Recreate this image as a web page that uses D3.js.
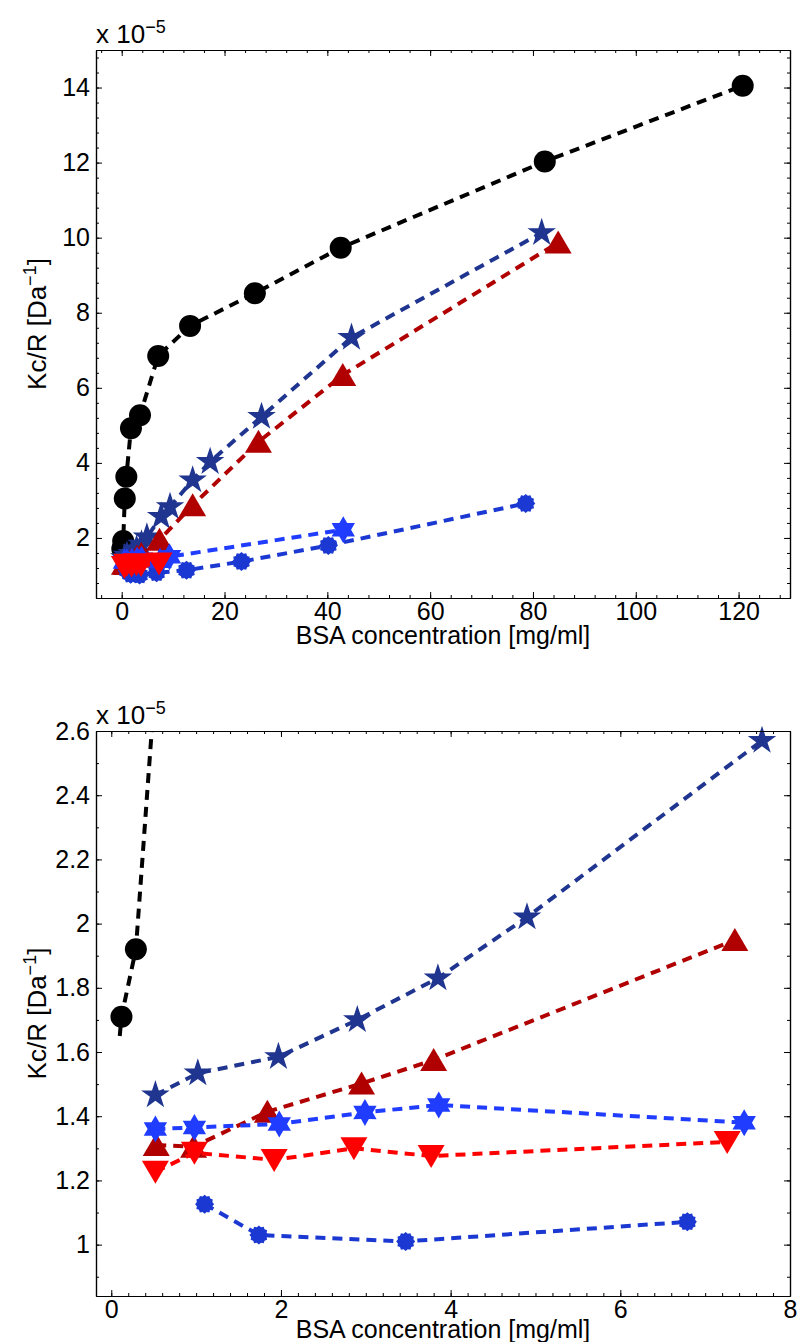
<!DOCTYPE html>
<html>
<head>
<meta charset="utf-8">
<script src="https://cdn.jsdelivr.net/npm/d3@7"></script>
<style>
body { margin: 0; background: #fff; }
text { font-family: "Liberation Sans", Arial, Helvetica, sans-serif; fill: #000; }
</style>
</head>
<body>
<div id="chart"></div>
<script>
var W = 798, H = 1342

// ---- data (Kc/R in units of 1e-5 Da^-1, BSA in mg/ml) ----
// black circles (first point carries the line only)
var blackX = [0.1, 0.12, 0.29, 0.6, 0.9, 1.8, 3.56, 7.1, 13.3, 25.9, 42.6, 82.3, 120.8]
var blackY = [1.65, 1.71, 1.92, 3.05, 3.63, 4.92, 5.27, 6.85, 7.65, 8.52, 9.73, 12.03, 14.05]
var blackNoMarker = [0]
// dark blue pentagrams
var starX = [0.52, 1.02, 1.97, 2.9, 3.85, 4.9, 7.67, 9.4, 13.8, 17.2, 27.2, 44.7, 81.7]
var starY = [1.466, 1.534, 1.585, 1.70, 1.83, 2.02, 2.57, 2.83, 3.54, 4.03, 5.23, 7.34, 10.13]
// dark red triangles
var triX = [0.53, 0.97, 1.84, 2.95, 3.8, 7.35, 13.8, 26.6, 43.0, 84.9]
var triY = [1.31, 1.305, 1.414, 1.502, 1.575, 1.949, 2.87, 4.56, 6.34, 9.87]
// blue "gear" markers
var dotX = [1.1, 1.74, 3.47, 6.79, 12.6, 23.3, 40.2, 78.6]
var dotY = [1.126, 1.03, 1.01, 1.071, 1.14, 1.37, 1.8, 2.92]
// bright blue hexagrams
var hexX = [0.52, 0.98, 1.98, 2.99, 3.86, 7.46, 9.3, 43.1]
var hexY = [1.36, 1.365, 1.376, 1.412, 1.435, 1.38, 1.5, 2.22]
// red down triangles
var downX = [0.52, 0.98, 1.92, 2.86, 3.77, 7.26]
var downY = [1.227, 1.286, 1.264, 1.30, 1.276, 1.32]

// ticks
var topXTicks = [0, 20, 40, 60, 80, 100, 120]
var topYTicks = [2, 4, 6, 8, 10, 12, 14]
var botXTicks = [0, 2, 4, 6, 8]
var botYTicks = [1, 1.2, 1.4, 1.6, 1.8, 2, 2.2, 2.4, 2.6]

var series = [
	{x: blackX, y: blackY, color: "#000000", shape: "circle", skip: blackNoMarker},
	{x: starX, y: starY, color: "#1f3590", shape: "pentagram", skip: []},
	{x: triX, y: triY, color: "#b00000", shape: "up", skip: []},
	{x: dotX, y: dotY, color: "#1b39d2", shape: "gear", skip: []},
	{x: hexX, y: hexY, color: "#1f3cff", shape: "hexagram", skip: []},
	{x: downX, y: downY, color: "#ff0000", shape: "down", skip: []}
]

function star(n, ro, ri){
	var pts = []
	for(var k = 0; k < n*2; k++){
		var a = -Math.PI/2 + k*Math.PI/n
		var r = k % 2 == 0 ? ro : ri
		pts.push([r*Math.cos(a), r*Math.sin(a)])
	}
	return pts
}
var polyLine = d3.line().curve(d3.curveLinearClosed)
var shapes = {
	circle: d3.symbol(d3.symbolCircle, Math.PI*11*11)(),
	pentagram: polyLine(star(5, 15, 15*0.382)),
	hexagram: polyLine(star(6, 13.5, 13.5*0.577)),
	gear: polyLine(star(12, 9.5, 8)),
	up: polyLine([[0, -12], [13.5, 11], [-13.5, 11]]),
	down: polyLine([[0, 12], [13.5, -11], [-13.5, -11]])
}

var svg = d3.select("#chart").append("svg")
	.attr("width", W)
	.attr("height", H)

function panel(p){
	var x = d3.scaleLinear().domain(p.xd).range([96, 790])
	var y = d3.scaleLinear().domain(p.yd).range([p.bottom, p.top])
	var g = svg.append("g")

	g.append("clipPath").attr("id", p.id)
		.append("rect")
		.attr("x", 96).attr("y", p.top)
		.attr("width", 694).attr("height", p.bottom - p.top)

	series.forEach(function(s){
		var pts = s.x.map(function(v, i){ return {x: v, y: s.y[i], i: i} })
			.filter(function(d){ return d.x <= p.maxX })
		g.append("path")
			.datum(pts)
			.attr("clip-path", "url(#" + p.id + ")")
			.attr("d", d3.line().x(function(d){ return x(d.x) }).y(function(d){ return y(d.y) }))
			.attr("fill", "none")
			.attr("stroke", s.color)
			.attr("stroke-width", 4)
			.attr("stroke-dasharray", "10,7")
		g.selectAll(null)
			.data(pts.filter(function(d){ return s.skip.indexOf(d.i) < 0 && d.y <= p.yd[1] && d.y >= p.yd[0] }))
			.enter().append("path")
			.attr("transform", function(d){ return "translate(" + x(d.x) + "," + y(d.y) + ")" })
			.attr("d", shapes[s.shape])
			.attr("fill", s.color)
	})

	// minor ticks
	var xm = d3.range(Math.ceil(p.xd[0]/p.xMinor), Math.floor(p.xd[1]/p.xMinor) + 1)
		.map(function(k){ return +(k*p.xMinor).toFixed(4) })
	var ym = d3.range(Math.ceil(p.yd[0]/p.yMinor - 1e-6), Math.floor(p.yd[1]/p.yMinor + 1e-6) + 1)
		.map(function(k){ return +(k*p.yMinor).toFixed(4) })

	var ax = [
		g.append("g").attr("transform", "translate(0," + p.bottom + ")")
			.call(d3.axisBottom(x).tickValues(p.xTicks).tickSize(-6).tickSizeOuter(0).tickPadding(4).tickFormat(d3.format("d"))),
		g.append("g").attr("transform", "translate(0," + p.top + ")")
			.call(d3.axisTop(x).tickValues(p.xTicks).tickSize(-6).tickSizeOuter(0).tickFormat("")),
		g.append("g").attr("transform", "translate(96,0)")
			.call(d3.axisLeft(y).tickValues(p.yTicks).tickSize(-6).tickSizeOuter(0).tickPadding(6).tickFormat(p.yFmt)),
		g.append("g").attr("transform", "translate(790,0)")
			.call(d3.axisRight(y).tickValues(p.yTicks).tickSize(-6).tickSizeOuter(0).tickFormat("")),
		g.append("g").attr("transform", "translate(0," + p.bottom + ")")
			.call(d3.axisBottom(x).tickValues(xm).tickSize(-3).tickSizeOuter(0).tickFormat("")),
		g.append("g").attr("transform", "translate(0," + p.top + ")")
			.call(d3.axisTop(x).tickValues(xm).tickSize(-3).tickSizeOuter(0).tickFormat("")),
		g.append("g").attr("transform", "translate(96,0)")
			.call(d3.axisLeft(y).tickValues(ym).tickSize(-3).tickSizeOuter(0).tickFormat("")),
		g.append("g").attr("transform", "translate(790,0)")
			.call(d3.axisRight(y).tickValues(ym).tickSize(-3).tickSizeOuter(0).tickFormat(""))
	]
	ax.forEach(function(a){
		a.attr("font-size", 25).attr("font-family", "Liberation Sans, Arial, sans-serif")
		a.select(".domain").attr("stroke-width", 1.2)
		a.selectAll(".tick line").attr("stroke-width", 1)
	})

	// exponent note
	var e = g.append("text").attr("x", 96).attr("y", p.top - 7).attr("font-size", 26).text("x 10")
	e.append("tspan").attr("dy", -10).attr("font-size", 18).text("\u22125")

	// axis titles
	g.append("text")
		.attr("x", 443).attr("y", p.bottom + p.labelGap)
		.attr("text-anchor", "middle")
		.attr("font-size", 25)
		.text("BSA concentration [mg/ml]")
	var yl = g.append("text")
		.attr("transform", "translate(46," + ((p.top + p.bottom)/2) + ") rotate(-90)")
		.attr("text-anchor", "middle")
		.attr("font-size", 26)
		.text("Kc/R [Da")
	yl.append("tspan").attr("dy", -10).attr("font-size", 18).text("\u22121")
	yl.append("tspan").attr("dy", 10).text("]")
}

panel({id: "c1", top: 50, bottom: 598, xd: [-5, 130], yd: [0.4, 15], maxX: Infinity, labelGap: 46,
	xTicks: topXTicks, yTicks: topYTicks, xMinor: 4, yMinor: 0.4, yFmt: d3.format("d")})
panel({id: "c2", top: 731, bottom: 1296, xd: [-0.18, 8], yd: [0.84, 2.6], maxX: 8, labelGap: 42,
	xTicks: botXTicks, yTicks: botYTicks, xMinor: 0.2, yMinor: 0.1,
	yFmt: function(d){ return String(+d.toFixed(1)) }})
</script>
</body>
</html>
